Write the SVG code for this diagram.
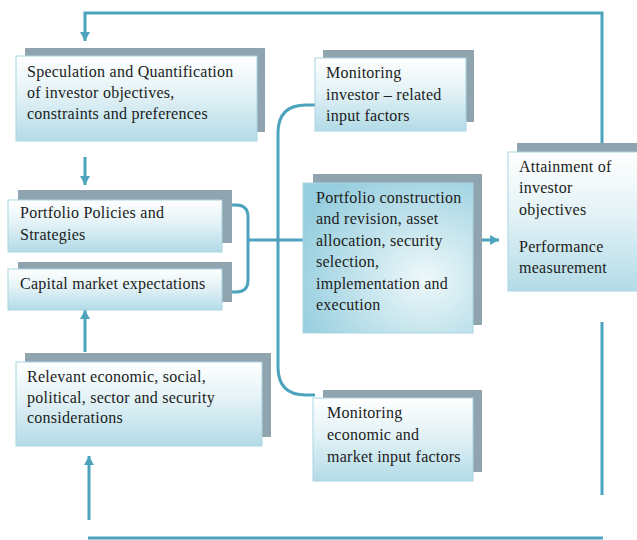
<svg xmlns="http://www.w3.org/2000/svg" width="637" height="540" viewBox="0 0 637 540">
  <defs>
    <linearGradient id="boxFill" x1="0" y1="0" x2="0" y2="1">
      <stop offset="0" stop-color="#ffffff"/>
      <stop offset="0.45" stop-color="#e3f2f6"/>
      <stop offset="1" stop-color="#b3dbe7"/>
    </linearGradient>
    <radialGradient id="coreFill" cx="0.72" cy="0.64" r="0.8">
      <stop offset="0" stop-color="#eef8fa"/>
      <stop offset="0.5" stop-color="#c2e3ec"/>
      <stop offset="1" stop-color="#96cedf"/>
    </radialGradient>
    <marker id="arrow" markerUnits="userSpaceOnUse" markerWidth="12" markerHeight="12" refX="9" refY="5" orient="auto">
      <path d="M0,0 L9,5 L0,10 Z" fill="#4ba3bd"/>
    </marker>
  </defs>
  <style>
    .shadow { fill: #8fa4ae; }
    .box { fill: url(#boxFill); stroke: #a9d4e1; stroke-width: 1; }
    .core { fill: url(#coreFill); stroke: #a9d4e1; stroke-width: 1; }
    .label { font-size: 16px; letter-spacing: 0.25px; fill: #1c1c1c; }
    .link { fill: none; stroke: #4ba3bd; stroke-width: 3; }
    .arrow { fill: none; stroke: #4ba3bd; stroke-width: 3; marker-end: url(#arrow); }
  </style>

  <rect width="637" height="540" fill="#ffffff"/>

  <g id="connectors">
    <!-- feedback loop along the top into the objectives box -->
    <path class="arrow" d="M602,143 V13 H85 V41"/>
    <!-- objectives to policies -->
    <path class="arrow" d="M85,157 V185"/>
    <!-- considerations up to capital market expectations -->
    <path class="arrow" d="M85,352 V310"/>
    <!-- return path along the bottom -->
    <path class="arrow" d="M89,520 V456"/>
    <path class="link" d="M88,538 H603"/>
    <path class="link" d="M602,322 V495"/>
    <!-- bracket joining policies and expectations -->
    <path class="link" d="M222,205 H236 Q248,205 248,217 V280 Q248,292 236,292 H222"/>
    <path class="link" d="M248,240 H313"/>
    <!-- monitoring spine -->
    <path class="link" d="M315,105 H306 Q278,105 278,133 V367 Q278,395 306,395 H315"/>
    <!-- construction to attainment -->
    <path class="arrow" d="M476,240 H499"/>
  </g>

  <g font-family="'Liberation Serif', 'Times New Roman', 'DejaVu Serif', serif">
  <g id="node-objectives">
    <rect class="shadow" x="25" y="48" width="240" height="84"/>
    <rect class="box" x="16" y="56" width="241" height="85"/>
    <text class="label" x="27" y="77">Speculation and Quantification</text>
    <text class="label" x="27" y="98">of investor objectives,</text>
    <text class="label" x="27" y="119">constraints and preferences</text>
  </g>

  <g id="node-policies">
    <rect class="shadow" x="18" y="190" width="214" height="53"/>
    <rect class="box" x="8" y="200" width="214" height="52"/>
    <text class="label" x="20" y="218">Portfolio Policies and</text>
    <text class="label" x="20" y="240">Strategies</text>
  </g>

  <g id="node-expectations">
    <rect class="shadow" x="18" y="262" width="214" height="40"/>
    <rect class="box" x="8" y="269" width="214" height="41"/>
    <text class="label" x="20" y="289">Capital market expectations</text>
  </g>

  <g id="node-considerations">
    <rect class="shadow" x="25" y="353" width="246" height="84"/>
    <rect class="box" x="16" y="362" width="246" height="84"/>
    <text class="label" x="27" y="382">Relevant economic, social,</text>
    <text class="label" x="27" y="403">political, sector and security</text>
    <text class="label" x="27" y="423">considerations</text>
  </g>

  <g id="node-monitor-investor">
    <rect class="shadow" x="323" y="50" width="151" height="72"/>
    <rect class="box" x="315" y="58" width="151" height="73"/>
    <text class="label" x="326" y="78">Monitoring</text>
    <text class="label" x="326" y="100">investor – related</text>
    <text class="label" x="326" y="121">input factors</text>
  </g>

  <g id="node-construction">
    <rect class="shadow" x="313" y="174" width="169" height="151"/>
    <rect class="core" x="303" y="183" width="170" height="150"/>
    <text class="label" x="316" y="203">Portfolio construction</text>
    <text class="label" x="316" y="224">and revision, asset</text>
    <text class="label" x="316" y="246">allocation, security</text>
    <text class="label" x="316" y="267">selection,</text>
    <text class="label" x="316" y="289">implementation and</text>
    <text class="label" x="316" y="310">execution</text>
  </g>

  <g id="node-monitor-market">
    <rect class="shadow" x="323" y="390" width="159" height="82"/>
    <rect class="box" x="313" y="398" width="160" height="83"/>
    <text class="label" x="327" y="418">Monitoring</text>
    <text class="label" x="327" y="440">economic and</text>
    <text class="label" x="327" y="462">market input factors</text>
  </g>

  <g id="node-attainment">
    <rect class="shadow" x="517" y="143" width="135" height="140"/>
    <rect class="box" x="508" y="152" width="135" height="139"/>
    <text class="label" x="519" y="172">Attainment of</text>
    <text class="label" x="519" y="193">investor</text>
    <text class="label" x="519" y="215">objectives</text>
    <text class="label" x="519" y="252">Performance</text>
    <text class="label" x="519" y="273">measurement</text>
  </g>
  </g>
</svg>
